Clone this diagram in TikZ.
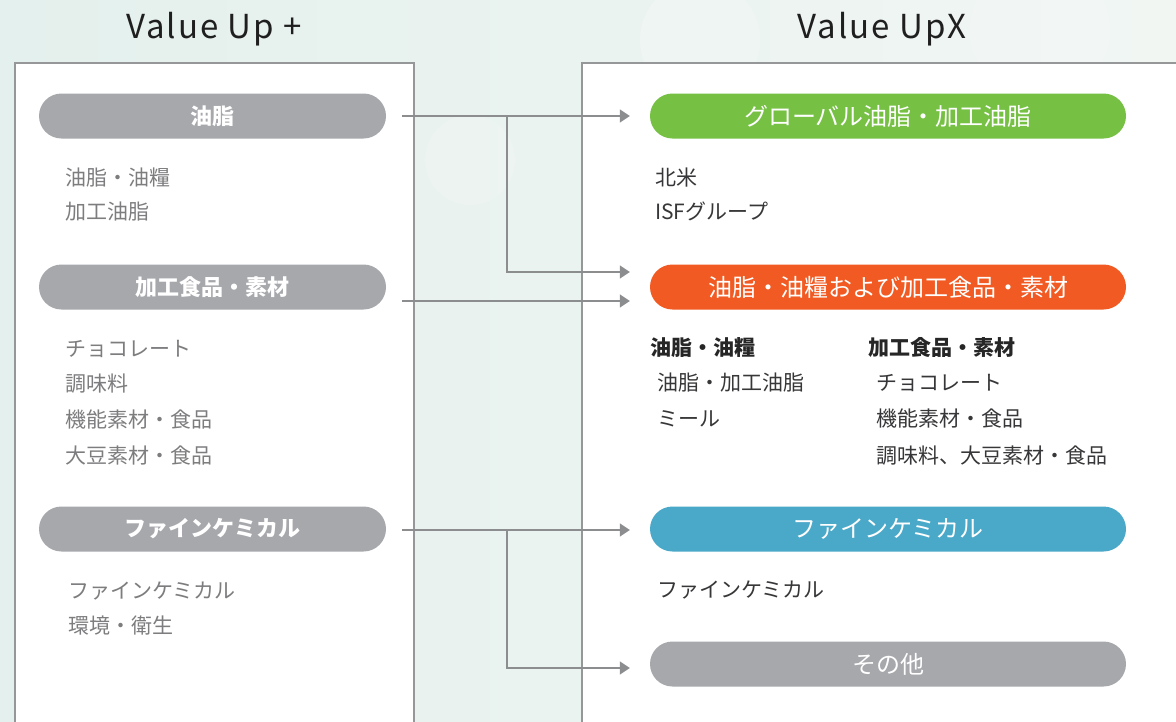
\documentclass[tikz,border=0pt]{standalone}
\usepackage{fontspec}
\usetikzlibrary{arrows.meta}
\newfontfamily\jp{Noto Sans CJK JP}
\newfontfamily\jptitle{Noto Sans CJK JP}[LetterSpace=6]
\definecolor{bgA}{RGB}{228,240,237}
\definecolor{bgB}{RGB}{241,246,243}
\definecolor{frame}{RGB}{150,151,153}
\definecolor{conn}{RGB}{140,141,143}
\definecolor{pillgray}{RGB}{167,168,172}
\definecolor{pillgreen}{RGB}{118,192,68}
\definecolor{pillorange}{RGB}{241,90,34}
\definecolor{pillblue}{RGB}{74,168,200}
\definecolor{lefttext}{RGB}{125,125,127}
\definecolor{righttext}{RGB}{55,55,57}
\tikzset{
  pill/.style={rectangle, rounded corners=22.5pt, minimum height=45pt, inner sep=0pt,
    text=white, font=\jp\fontsize{24}{24}\selectfont},
  lpill/.style={pill, fill=pillgray, minimum width=347pt, font=\jp\bfseries\fontsize{22}{22}\selectfont},
  rpill/.style={pill, minimum width=476pt},
  txt/.style={inner sep=0pt, anchor=west, text height=18.5pt, text depth=2.5pt,
    font=\jp\fontsize{21}{21}\selectfont},
  ltxt/.style={txt, text=lefttext},
  rtxt/.style={txt, text=righttext},
  rhead/.style={rtxt, font=\jp\bfseries\fontsize{21}{21}\selectfont, text=black!85},
  conline/.style={draw=conn, line width=1.2pt},
  arr/.style={conline, -{Triangle[length=10pt,width=13pt]}},
  boxframe/.style={draw=frame, line width=1.5pt, fill=white},
  title/.style={inner sep=0pt, font=\jptitle\fontsize{33}{33}\selectfont, text=black!88}
}
\begin{document}
\begin{tikzpicture}[x=1pt,y=-1pt]
\useasboundingbox (0,0) rectangle (1176,721);
% background
\shade[left color=bgA, right color=bgB] (0,0) rectangle (1176,721);
\fill[white, opacity=0.18] (700,40) circle (60);
\fill[white, opacity=0.18] (1040,30) circle (70);
\fill[white, opacity=0.15] (470,160) circle (45);
% frames
\draw[boxframe] (15,63) rectangle (414,735);
\draw[boxframe] (582,63) rectangle (1190,735);
% titles
\node[title] (t1) at (214,29) {Value Up +};
\node[title] (t2) at (882,29) {Value UpX};
% left pills
\node[lpill] (L1) at (212.5,116) {油脂};
\node[lpill] (L2) at (212.5,287) {加工食品・素材};
\node[lpill] (L3) at (212.5,529) {ファインケミカル};
% left texts
\node[ltxt] (a1) at (65,177) {油脂・油糧};
\node[ltxt] (a2) at (65,211) {加工油脂};
\node[ltxt] (b1) at (65,348) {チョコレート};
\node[ltxt] (b2) at (65,383) {調味料};
\node[ltxt] (b3) at (65,419) {機能素材・食品};
\node[ltxt] (b4) at (65,455) {大豆素材・食品};
\node[ltxt] (c1) at (68,590) {ファインケミカル};
\node[ltxt] (c2) at (68,625) {環境・衛生};
% right pills
\node[rpill, fill=pillgreen] (R1) at (888,116) {グローバル油脂・加工油脂};
\node[rpill, fill=pillorange] (R2) at (888,287) {油脂・油糧および加工食品・素材};
\node[rpill, fill=pillblue] (R3) at (888,529) {ファインケミカル};
\node[rpill, fill=pillgray] (R4) at (888,664) {その他};
% right texts
\node[rtxt] (d1) at (655,177) {北米};
\node[rtxt] (d2) at (655,211) {ISFグループ};
\node[rhead] (e1) at (650,347) {油脂・油糧};
\node[rhead] (e2) at (868,347) {加工食品・素材};
\node[rtxt] (e3) at (657,382) {油脂・加工油脂};
\node[rtxt] (e4) at (657,418) {ミール};
\node[rtxt] (e5) at (876,382) {チョコレート};
\node[rtxt] (e6) at (876,418) {機能素材・食品};
\node[rtxt] (e7) at (876,455) {調味料、大豆素材・食品};
\node[rtxt] (f1) at (657,589) {ファインケミカル};
% connectors (yshift is in canvas direction: positive = up)
\coordinate (s1) at ([xshift=16pt]L1.east);
\coordinate (j1) at (507,116);
\coordinate (e1a) at ([xshift=-20pt]R1.west);
\coordinate (e2a) at ([xshift=-20pt,yshift=15pt]R2.west);
\coordinate (e2b) at ([xshift=-20pt,yshift=-14pt]R2.west);
\coordinate (s2) at ([xshift=16pt,yshift=-14pt]L2.east);
\coordinate (s3) at ([xshift=16pt,yshift=-1pt]L3.east);
\coordinate (e3a) at ([xshift=-20pt,yshift=-1pt]R3.west);
\coordinate (j3) at (507,530);
\coordinate (e4a) at ([xshift=-20pt,yshift=-4pt]R4.west);
\draw[arr] (s1) -- (e1a);
\draw[arr] (j1) |- (e2a);
\draw[arr] (s2) -- (e2b);
\draw[arr] (s3) -- (e3a);
\draw[arr] (j3) |- (e4a);
\end{tikzpicture}
\end{document}
